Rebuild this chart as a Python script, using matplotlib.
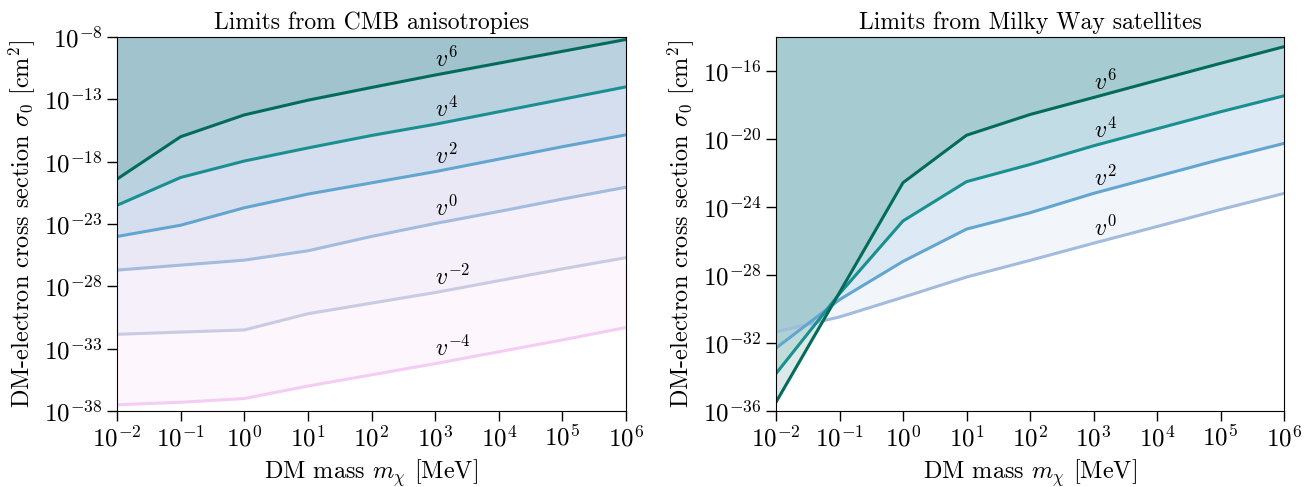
import numpy as np
import matplotlib
matplotlib.use("Agg")
import matplotlib.pyplot as plt

plt.rcParams["font.family"] = "serif"
plt.rcParams["font.serif"] = ["cmr10"]
plt.rcParams["mathtext.fontset"] = "cm"
plt.rcParams["axes.formatter.use_mathtext"] = True

# DM mass grid [MeV]
masses = [1e-2, 1e-1, 1e0, 1e1, 1e2, 1e3, 1e4, 1e5, 1e6]

# log10 of sigma_0 [cm^2]
cmb_labels = ["$v^{-4}$", "$v^{-2}$", "$v^0$", "$v^2$", "$v^4$", "$v^6$"]
cmb_vm4 = [-37.5, -37.3, -37.0, -36.0, -35.1, -34.2, -33.25, -32.3, -31.3]
cmb_vm2 = [-31.85, -31.67, -31.5, -30.2, -29.35, -28.5, -27.55, -26.6, -25.7]
cmb_v0 = [-26.7, -26.3, -25.9, -25.15, -24.0, -22.96, -22.0, -21.0, -20.05]
cmb_v2 = [-24.0, -23.1, -21.7, -20.6, -19.7, -18.8, -17.8, -16.8, -15.85]
cmb_v4 = [-21.5, -19.27, -17.95, -16.9, -15.9, -15.0, -14.0, -13.0, -12.0]
cmb_v6 = [-19.4, -16.0, -14.25, -13.07, -12.05, -11.05, -10.1, -9.15, -8.2]

mw_labels = ["$v^0$", "$v^2$", "$v^4$", "$v^6$"]
mw_v0 = [-31.34, -30.47, -29.31, -28.12, -27.14, -26.13, -25.15, -24.15, -23.2]
mw_v2 = [-32.3, -29.45, -27.2, -25.3, -24.34, -23.2, -22.2, -21.2, -20.26]
mw_v4 = [-33.8, -29.1, -24.82, -22.51, -21.5, -20.4, -19.4, -18.4, -17.46]
mw_v6 = [-35.48, -29.03, -22.57, -19.78, -18.56, -17.56, -16.55, -15.55, -14.57]

colors = ["#f4cdf4", "#c9cbe3", "#a3bbdc", "#62a6d0", "#1a8f90", "#036b5a"]

fig = plt.figure(figsize=(13.09, 4.87), dpi=100)
ax1 = fig.add_axes([117 / 1309, 1 - 411 / 487, 509 / 1309, 374 / 487])
ax2 = fig.add_axes([776 / 1309, 1 - 411 / 487, 508 / 1309, 374 / 487])


def draw_panel(ax, curves, labels, cols, ylim, yticks, title):
    top = 10.0 ** ylim[1]
    for vals, lab, c in zip(curves, labels, cols):
        y = 10.0 ** np.array(vals)
        ax.fill_between(masses, y, top, color=c, alpha=0.14, lw=0)
        ax.plot(masses, y, color=c, lw=2.2)
        ax.annotate(lab, (1e3, y[5]), xytext=(0, 2), textcoords="offset points",
                    ha="left", va="bottom", fontsize=17)
    ax.set_xscale("log")
    ax.set_yscale("log")
    ax.set_xlim(1e-2, 1e6)
    ax.set_ylim(10.0 ** ylim[0], top)
    ax.set_xticks(masses)
    ax.set_yticks([10.0 ** t for t in yticks])
    ax.minorticks_off()
    ax.tick_params(direction="out", length=7, width=1, labelsize=18)
    ax.set_xlabel(r"DM mass $m_\chi$ [MeV]", fontsize=17.5)
    ax.set_ylabel(r"DM-electron cross section $\sigma_0$ [cm$^2$]", fontsize=17.5)
    ax.set_title(title, fontsize=17)


draw_panel(ax1, [cmb_vm4, cmb_vm2, cmb_v0, cmb_v2, cmb_v4, cmb_v6], cmb_labels, colors,
           (-38, -8), [-38, -33, -28, -23, -18, -13, -8], "Limits from CMB anisotropies")
draw_panel(ax2, [mw_v0, mw_v2, mw_v4, mw_v6], mw_labels, colors[2:],
           (-36, -14), [-36, -32, -28, -24, -20, -16], "Limits from Milky Way satellites")

fig.savefig("out.png", dpi=100)
